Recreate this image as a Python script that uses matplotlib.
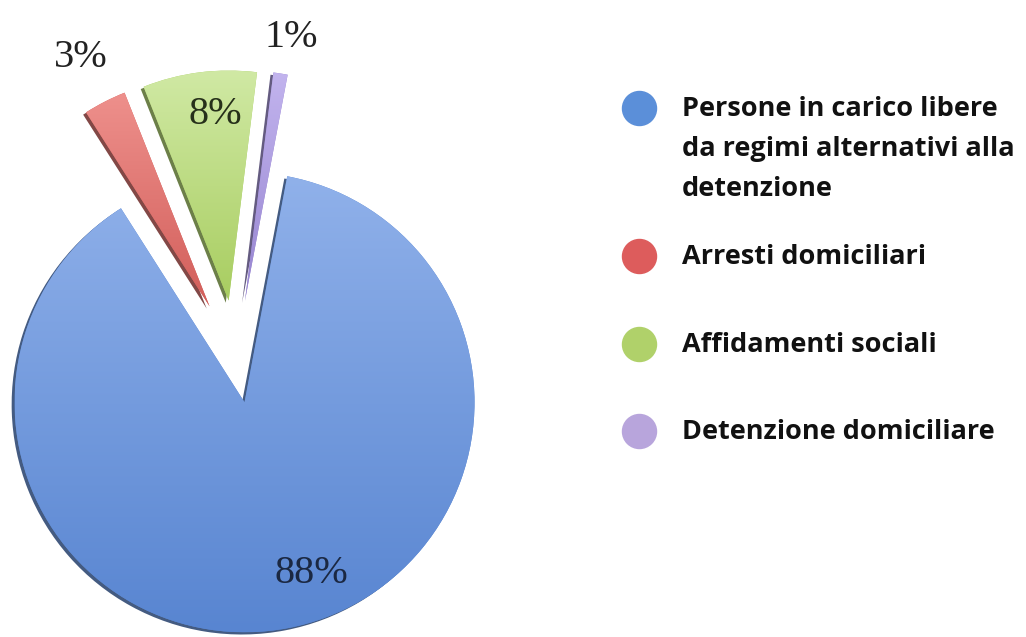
import numpy as np
import matplotlib
matplotlib.use('Agg')
import matplotlib.pyplot as plt
from matplotlib.colors import LinearSegmentedColormap

# ─── Dati ───
categorie = ['Persone in carico libere\nda regimi alternativi alla\ndetenzione',
             'Arresti domiciliari',
             'Affidamenti sociali',
             'Detenzione domiciliare']
percentuali = [88, 3, 8, 1]

colori_legenda = ['#5b8fd9', '#dd5c5c', '#b0d16a', '#b8a5dc']
# sfumature (alto, basso) per ogni spicchio
sfumature = [('#90b1ea', '#5885d1'),
             ('#ee908c', '#d25e5a'),
             ('#d0e9a4', '#a8cd60'),
             ('#c2b4ee', '#9684d0')]
colori_testo = ['#1b2842', '#222222', '#26301a', '#222222']

# posizione delle etichette: distanza dal centro e rotazione rispetto alla bisettrice
dist_etichette = [0.80, 1.22, 0.81, 1.16]
rot_etichette = [10.4, 0.2, -3.1, -1.0]

esplosione = [0.196, 0.252, 0.252, 0.252]

fig = plt.figure(figsize=(10.26, 6.37), dpi=100)
ax = fig.add_axes([0, 0, 1, 1])

# ox/oy dell'ombra sono in unità dati (raggio = 1), scalate per dpi/72
wedges, _, autotexts = ax.pie(
    percentuali, explode=esplosione, startangle=79.3, counterclock=False,
    colors=[b for _, b in sfumature], autopct='%.0f%%', pctdistance=0.8,
    shadow={'ox': -0.009, 'oy': -0.007, 'shade': 0.45, 'alpha': 0.9},
    wedgeprops={'linewidth': 0},
    textprops={'fontfamily': 'Liberation Serif', 'fontsize': 29})

# riempimento sfumato dentro ogni spicchio
gradiente = np.linspace(0, 1, 256).reshape(-1, 1)
for w, (alto, basso) in zip(wedges, sfumature):
    cmap = LinearSegmentedColormap.from_list('g', [basso, alto])
    bb = w.get_path().get_extents()
    im = ax.imshow(gradiente, cmap=cmap, origin='lower', aspect='auto',
                   extent=(bb.x0, bb.x1, bb.y0, bb.y1), zorder=w.get_zorder() + 0.1,
                   interpolation='bilinear')
    im.set_clip_path(w)

# etichette percentuali
for w, t, d, r, c in zip(wedges, autotexts, dist_etichette, rot_etichette, colori_testo):
    ang = np.deg2rad((w.theta1 + w.theta2) / 2 + r)
    cx, cy = w.center
    t.set_position((cx + d * np.cos(ang), cy + d * np.sin(ang)))
    t.set_color(c)
    t.set_zorder(5)

s = 230.0
ax.set_xlim(-236 / s, (1026 - 236) / s)
ax.set_ylim(-(637 - 358) / s, 358 / s)
ax.set_aspect('equal')
ax.axis('off')

# legenda a destra
y_leg = [108, 256, 344, 431]
for lab, col, y in zip(categorie, colori_legenda, y_leg):
    ax.scatter([(639 - 236) / s], [(358 - y) / s], s=600, color=col,
               zorder=5, clip_on=False)
    for i, riga in enumerate(lab.split('\n')):
        ax.text((682 - 236) / s, (358 - (y + 8 + 40 * i)) / s, riga,
                fontfamily='Open Sans', fontweight='bold', fontsize=19.5,
                color='#111111', va='baseline', ha='left')

fig.savefig('out.png', dpi=100)
